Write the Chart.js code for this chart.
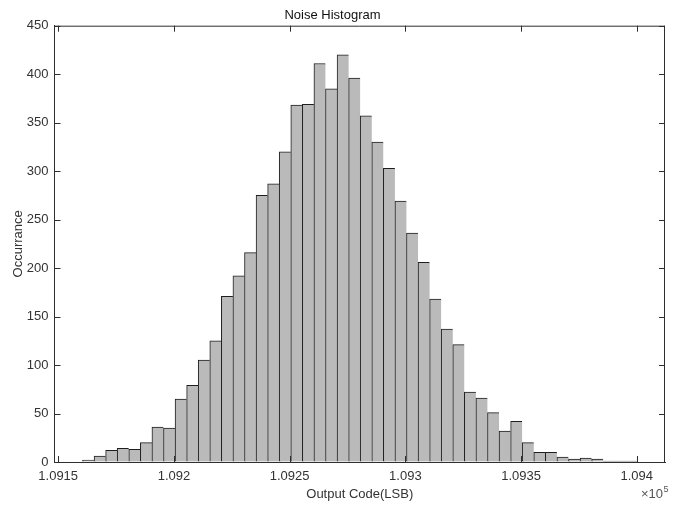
<!DOCTYPE html>
<html>
<head>
<meta charset="utf-8">
<script src="https://cdn.jsdelivr.net/npm/chart.js@4/dist/chart.umd.min.js"></script>
<style>
  html, body { margin: 0; padding: 0; background: #ffffff; }
  #wrap { width: 680px; height: 509px; }
</style>
</head>
<body>
<div id="wrap"><canvas id="c" width="680" height="509"></canvas></div>
<script>
// Bin centres (Output Code, LSB) and counts
const binCenters = [
  109163, 109168, 109173, 109178, 109183, 109188, 109193, 109198,
  109203, 109208, 109213, 109218, 109223, 109228, 109233, 109238,
  109243, 109248, 109253, 109258, 109263, 109268, 109273, 109278,
  109283, 109288, 109293, 109298, 109303, 109308, 109313, 109318,
  109323, 109328, 109333, 109338, 109343, 109348, 109353, 109358,
  109363, 109368, 109373, 109378, 109383, 109388, 109393, 109398
];
const counts = [
  2, 6, 12, 14, 13, 20, 36, 35,
  65, 79, 105, 125, 171, 192, 216, 275,
  287, 320, 368, 369, 411, 385, 420, 396,
  357, 330, 303, 269, 236, 206, 168, 137,
  121, 72, 66, 51, 32, 42, 20, 10,
  10, 5, 3, 4, 3, 1, 1, 1
];
const xTicks = [109150, 109200, 109250, 109300, 109350, 109400];
const yTicks = [0, 50, 100, 150, 200, 250, 300, 350, 400, 450];
const xRange = [109148.4, 109412.2];
const yRange = [0, 450];
const titleText = 'Noise Histogram';
const xLabel = 'Output Code(LSB)';
const yLabel = 'Occurrance';

const FONT = "'Liberation Sans', Arial, Helvetica, sans-serif";
const AXIS_COLOR = '#2e2e2e';
const TEXT_COLOR = '#333333';

const framePlugin = {
  id: 'matlabFrame',
  afterDraw(chart) {
    const { ctx, chartArea: a, scales } = chart;
    const xs = scales.x, ys = scales.y;
    const tl = 6;
    ctx.save();
    ctx.strokeStyle = AXIS_COLOR;
    ctx.lineWidth = 1;
    ctx.beginPath();
    // top and right frame lines
    ctx.moveTo(a.left, a.top + 0.5); ctx.lineTo(a.right, a.top + 0.5);
    ctx.moveTo(a.right - 0.5, a.top); ctx.lineTo(a.right - 0.5, a.bottom);
    // inward ticks
    xs.ticks.forEach(t => {
      const px = Math.round(xs.getPixelForValue(t.value)) + 0.5;
      ctx.moveTo(px, a.bottom); ctx.lineTo(px, a.bottom - tl);
      ctx.moveTo(px, a.top); ctx.lineTo(px, a.top + tl);
    });
    ys.ticks.forEach(t => {
      const py = Math.round(ys.getPixelForValue(t.value)) + 0.5;
      ctx.moveTo(a.left, py); ctx.lineTo(a.left + tl, py);
      ctx.moveTo(a.right, py); ctx.lineTo(a.right - tl, py);
    });
    ctx.stroke();
    // exponent label (x 10^5)
    ctx.fillStyle = '#555555';
    ctx.textBaseline = 'alphabetic';
    ctx.font = '13px ' + FONT;
    ctx.textAlign = 'right';
    const baseY = a.bottom + 36;
    const xEnd = a.right - 2;
    ctx.fillText('\u00d710', xEnd, baseY);
    ctx.font = '9px ' + FONT;
    ctx.textAlign = 'left';
    ctx.fillText('5', xEnd + 0.5, baseY - 6);
    ctx.restore();
  }
};

new Chart(document.getElementById('c'), {
  type: 'bar',
  data: {
    datasets: [{
      data: binCenters.map((x, i) => ({ x: x, y: counts[i] })),
      backgroundColor: '#bababa',
      borderColor: '#1e1e1e',
      borderWidth: { left: 1, top: 1, right: 0, bottom: 0 },
      borderSkipped: false,
      barPercentage: 1,
      categoryPercentage: 1
    }]
  },
  options: {
    responsive: false,
    devicePixelRatio: 1,
    animation: false,
    layout: { padding: { left: 0, right: 15, top: 0, bottom: 0 } },
    plugins: {
      legend: { display: false },
      tooltip: { enabled: false },
      title: {
        display: true,
        text: titleText,
        color: '#111111',
        font: { family: FONT, size: 13, weight: 'normal' },
        padding: { top: 7.2, bottom: 2.9 }
      }
    },
    scales: {
      x: {
        type: 'linear',
        min: xRange[0],
        max: xRange[1],
        offset: false,
        afterBuildTicks: (scale) => { scale.ticks = xTicks.map(v => ({ value: v })); },
        afterFit: (scale) => { scale.height = 47; },
        ticks: {
          color: TEXT_COLOR,
          font: { family: FONT, size: 13 },
          padding: 7,
          maxRotation: 0,
          autoSkip: false,
          callback: (v) => String(+(v / 1e5).toFixed(4))
        },
        grid: { display: true, drawOnChartArea: false, drawTicks: false, offset: false },
        border: { display: true, color: AXIS_COLOR, width: 1 },
        title: {
          display: true,
          text: xLabel,
          color: TEXT_COLOR,
          font: { family: FONT, size: 13 },
          padding: { top: 0, bottom: 6.7 }
        }
      },
      y: {
        type: 'linear',
        min: yRange[0],
        max: yRange[1],
        afterBuildTicks: (scale) => { scale.ticks = yTicks.map(v => ({ value: v })); },
        afterFit: (scale) => { scale.width = 54.5; },
        ticks: {
          color: TEXT_COLOR,
          font: { family: FONT, size: 13 },
          padding: 6
        },
        grid: { display: true, drawOnChartArea: false, drawTicks: false },
        border: { display: true, color: AXIS_COLOR, width: 1 },
        title: {
          display: true,
          text: yLabel,
          color: TEXT_COLOR,
          font: { family: FONT, size: 13 },
          padding: { top: 10.5, bottom: 0 }
        }
      }
    }
  },
  plugins: [framePlugin]
});
</script>
</body>
</html>
